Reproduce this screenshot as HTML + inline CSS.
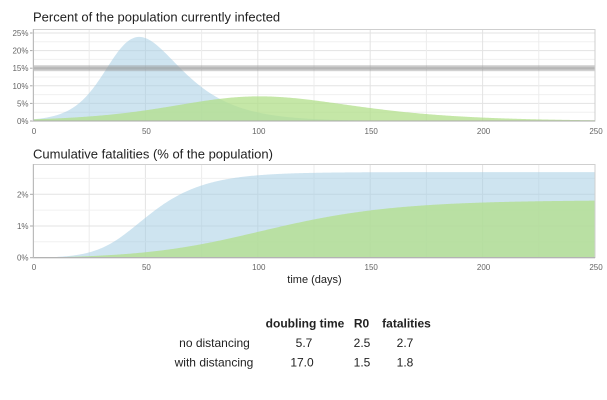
<!DOCTYPE html>
<html><head><meta charset="utf-8"><style>
html,body{margin:0;padding:0;background:#fff;}
svg{display:block;font-family:"Liberation Sans",Arial,sans-serif;}
</style></head><body>
<svg id="s" width="607" height="400" viewBox="0 0 607 400" xmlns="http://www.w3.org/2000/svg">
<rect width="607" height="400" fill="#fff"/>
<text x="33" y="21.5" font-size="13" fill="#222">Percent of the population currently infected</text>
<text x="33" y="158.5" font-size="13" fill="#222">Cumulative fatalities (% of the population)</text>
<g id="grid"></g>
<g id="areas"></g>
<g id="band">
<rect x="33" y="65.2" width="562" height="6" fill="#999" opacity="0.45"/>
<rect x="33" y="66.7" width="562" height="3" fill="#888" opacity="0.25"/>
</g>
<g id="frames" fill="none">
<rect x="33.5" y="29.5" width="561.5" height="91.5" stroke="#cfcfcf"/>
<line x1="33" y1="121" x2="595" y2="121" stroke="#aaa"/>
<line x1="33.5" y1="29" x2="33.5" y2="121" stroke="#bbb"/>
<rect x="33.5" y="164.5" width="561.5" height="93" stroke="#cfcfcf"/>
<line x1="33" y1="257.7" x2="595" y2="257.7" stroke="#aaa"/>
<line x1="33.5" y1="164" x2="33.5" y2="258" stroke="#bbb"/>
</g>
<g id="labels" font-size="8" fill="#666"></g>
<text x="314.5" y="283" font-size="11" fill="#222" text-anchor="middle">time (days)</text>
<g font-size="12" fill="#222" text-anchor="middle">
<text x="305" y="327.5" font-weight="bold">doubling time</text>
<text x="361.5" y="327.5" font-weight="bold">R0</text>
<text x="406.5" y="327.5" font-weight="bold">fatalities</text>
<text x="214.5" y="347">no distancing</text>
<text x="304" y="347">5.7</text>
<text x="362" y="347">2.5</text>
<text x="405" y="347">2.7</text>
<text x="214" y="366.5">with distancing</text>
<text x="302" y="366.5">17.0</text>
<text x="362" y="366.5">1.5</text>
<text x="405" y="366.5">1.8</text>
</g>
</svg>
<script>
(function(){
var X0=33,X1=595,sx=(X1-X0)/250;
function xs(t){return X0+t*sx;}
var T0=121,T1=29,tk=352; // top: y = 121 - v*352
var B0=257.7,B1=164,bk=3170;
var g='',lab='';
// top grid
for(var p=0;p<=27.5;p+=2.5){var y=T0-p/100*tk;if(y<T1)break;var major=(p%5===0);
 g+='<line x1="'+X0+'" x2="'+X1+'" y1="'+y.toFixed(1)+'" y2="'+y.toFixed(1)+'" stroke="'+(major?'#e3e3e3':'#f0f0f0')+'" stroke-width="1"/>';
 if(major){lab+='<text x="28.5" y="'+(y+3).toFixed(1)+'" text-anchor="end">'+p+'%</text>';
  g+='<line x1="30" x2="33" y1="'+y.toFixed(1)+'" y2="'+y.toFixed(1)+'" stroke="#aaa"/>';}
}
for(var t=0;t<=250;t+=25){var x=xs(t);var major=(t%50===0);
 g+='<line y1="'+T1+'" y2="'+T0+'" x1="'+x.toFixed(1)+'" x2="'+x.toFixed(1)+'" stroke="'+(major?'#e3e3e3':'#ececec')+'"/>';
 g+='<line y1="'+B1+'" y2="'+B0+'" x1="'+x.toFixed(1)+'" x2="'+x.toFixed(1)+'" stroke="'+(major?'#e3e3e3':'#ececec')+'"/>';
 if(major){lab+='<text x="'+(x+1).toFixed(1)+'" y="134" text-anchor="middle">'+t+'</text>';
  lab+='<text x="'+(x+1).toFixed(1)+'" y="270" text-anchor="middle">'+t+'</text>';}
}
for(var p=0;p<=3;p+=0.5){var y=B0-p/100*bk;if(y<B1)break;var major=(Math.abs(p-Math.round(p))<1e-9);
 g+='<line x1="'+X0+'" x2="'+X1+'" y1="'+y.toFixed(1)+'" y2="'+y.toFixed(1)+'" stroke="'+(major?'#e3e3e3':'#f0f0f0')+'"/>';
 if(major){lab+='<text x="28.5" y="'+(y+3).toFixed(1)+'" text-anchor="end">'+p+'%</text>';
  g+='<line x1="30" x2="33" y1="'+y.toFixed(1)+'" y2="'+y.toFixed(1)+'" stroke="#aaa"/>';}
}
document.getElementById('grid').innerHTML=g;
document.getElementById('labels').innerHTML=lab;

function sim(R0,gam,I0){
 var beta=R0*gam,dt=0.1,S=1-I0,I=I0,R=0,out=[];
 function f(S,I){var inf=beta*S*I;return [-inf,inf-gam*I,gam*I];}
 var steps=2500;
 for(var k=0;k<=steps;k++){
  if(k%5===0)out.push([k*dt,S,I,R]);
  var a=f(S,I),b=f(S+a[0]*dt/2,I+a[1]*dt/2),c=f(S+b[0]*dt/2,I+b[1]*dt/2),d=f(S+c[0]*dt,I+c[1]*dt);
  S+=dt/6*(a[0]+2*b[0]+2*c[0]+d[0]);I+=dt/6*(a[1]+2*b[1]+2*c[1]+d[1]);R+=dt/6*(a[2]+2*b[2]+2*c[2]+d[2]);
 }
 return out;
}
function peak(o){var m=-1,tt=0;for(var i=0;i<o.length;i++){if(o[i][2]>m){m=o[i][2];tt=o[i][0];}}return tt;}
function fit(R0,gam,target){
 var lo=Math.log(1e-9),hi=Math.log(0.2);
 for(var it=0;it<45;it++){var mid=(lo+hi)/2;var pt=peak(sim(R0,gam,Math.exp(mid)));
  if(pt>target)lo=mid;else hi=mid;}
 return sim(R0,gam,Math.exp((lo+hi)/2));
}
var gb=Math.log(2)/5.7/1.5, gg=Math.log(2)/17/0.5;
var blue=fit(2.5,gb,47), green=fit(1.5,gg,100.5);
function paths(o,iscale,fin){
 var top='M'+X0+','+T0,bot='M'+X0+','+B0;
 var Rend=o[o.length-1][3];var fr=fin/Rend;
 for(var i=0;i<o.length;i++){var x=xs(o[i][0]).toFixed(2);
  top+=' L'+x+','+(T0-o[i][2]*iscale*tk).toFixed(2);
  bot+=' L'+x+','+(B0-o[i][3]*fr*bk).toFixed(2);}
 top+=' L'+X1+','+T0+' Z';bot+=' L'+X1+','+B0+' Z';
 return [top,bot];
}
var pb=paths(blue,1.015,0.027),pg=paths(green,1.06,0.018);
var a='';
a+='<path d="'+pb[0]+'" fill="#a6cee3" fill-opacity="0.55"/>';
a+='<path d="'+pg[0]+'" fill="#b2df8a" fill-opacity="0.75"/>';
a+='<path d="'+pb[1]+'" fill="#a6cee3" fill-opacity="0.55"/>';
a+='<path d="'+pg[1]+'" fill="#b2df8a" fill-opacity="0.75"/>';
document.getElementById('areas').innerHTML=a;
})();
</script>
</body></html>
